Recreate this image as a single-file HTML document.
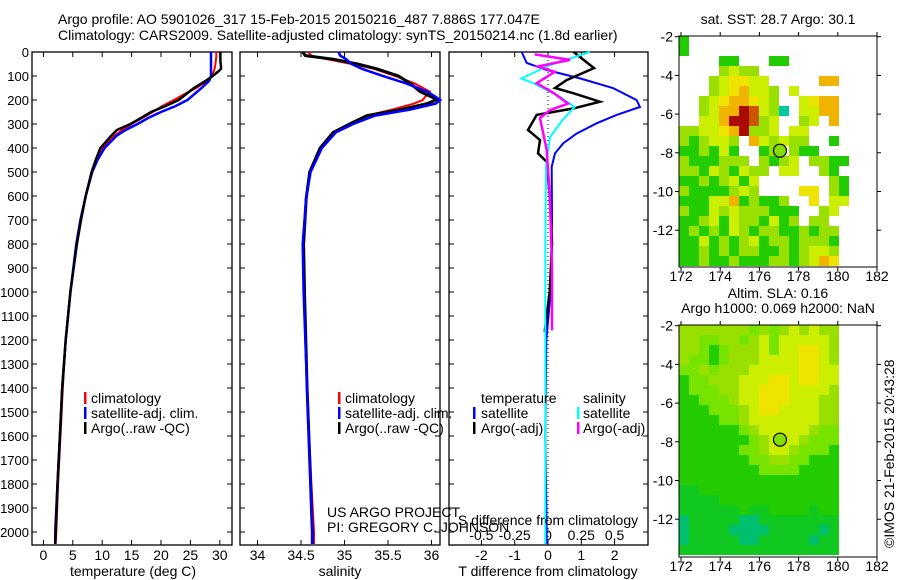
<!DOCTYPE html>
<html><head><meta charset="utf-8"><style>
body{margin:0;background:#fff}
svg{display:block;font-family:"Liberation Sans",sans-serif;font-size:14px}
</style></head><body>
<svg id="fig" width="900" height="580" viewBox="0 0 900 580">
<text x="58" y="24">Argo profile: AO 5901026_317 15-Feb-2015 20150216_487 7.886S 177.047E</text>
<text x="58" y="40">Climatology: CARS2009. Satellite-adjusted climatology: synTS_20150214.nc (1.8d earlier)</text>
<g id="maps"></g>
<g id="plots"></g>
<text x="327" y="517">US ARGO PROJECT</text>
<text x="327" y="532">PI: GREGORY C. JOHNSON</text>
<text transform="translate(894,548) rotate(-90)">©IMOS 21-Feb-2015 20:43:28</text>
</svg>
<script>
// ---------- data ----------
const depthTicks=[0,100,200,300,400,500,600,700,800,900,1000,1100,1200,1300,1400,1500,1600,1700,1800,1900,2000];
const tempTicks=[0,5,10,15,20,25,30];
const salTicks=[34,34.5,35,35.5,36];
const dTTicks=[-2,-1,0,1,2];
const dSTicks=[-0.5,-0.25,0,0.25,0.5];
const lonTicks=[172,174,176,178,180,182];
const latTicks=[-2,-4,-6,-8,-10,-12];

const tDepth=[0,20,40,60,70,80,100,120,150,175,200,225,250,275,300,325,350,400,450,500,600,700,800,1000,1200,1400,1600,1800,2000,2050];
const tArgo=[30.1,30.1,30.1,30.2,30.2,29.8,28.8,27.6,25.6,24.3,23.0,20.8,18.3,16.6,14.8,12.5,11.5,9.7,8.9,8.2,7.2,6.4,5.7,4.6,3.8,3.2,2.8,2.4,2.1,2.0];
const tClim=[29.4,29.4,29.3,29.2,29.1,29.0,28.6,27.9,26.0,24.0,22.2,20.2,18.6,16.8,15.0,13.4,12.0,10.1,9.0,8.2,7.2,6.3,5.6,4.6,3.8,3.3,2.9,2.5,2.2,2.1];
const tSat=[28.5,28.5,28.5,28.5,28.5,28.5,28.5,28.2,26.9,25.7,24.5,22.5,20.0,17.8,16.0,14.0,12.4,10.4,9.2,8.3,7.2,6.3,5.6,4.6,3.8,3.2,2.8,2.4,2.0,2.0];

const sDepth=[0,15,30,50,70,100,130,165,190,200,215,240,265,300,335,400,500,610,800,1000,1400,1800,2000,2050];
const sArgo=[34.52,34.55,34.87,35.15,35.37,35.62,35.75,35.87,36.02,36.05,35.95,35.65,35.26,35.06,34.87,34.72,34.60,34.56,34.53,34.54,34.57,34.61,34.63,34.63];
const sClim=[34.58,34.62,34.80,35.08,35.34,35.58,35.80,35.98,35.92,35.90,35.80,35.55,35.25,35.05,34.88,34.72,34.60,34.56,34.53,34.54,34.57,34.62,34.65,34.65];
const sSat=[34.93,34.95,35.02,35.08,35.20,35.44,35.70,35.95,36.06,36.10,36.05,35.75,35.35,35.10,34.90,34.74,34.61,34.56,34.52,34.53,34.57,34.61,34.63,34.63];

const dTSatDepth=[0,46,75,110,150,200,229,262,297,340,380,422,478,700,1000,1200,1600,2000,2050];
const dTSat=[-0.79,-0.64,-0.04,0.96,1.95,2.66,2.76,2.06,1.46,0.86,0.46,0.21,0.11,0.12,0.08,-0.05,-0.08,-0.04,-0.04];
const dTArgoDepth=[0,67,117,150,172,207,235,262,325,367,422,458,600,800,1000,1166];
const dTArgo=[0.77,1.38,0.56,0.21,0.77,1.56,0.77,-0.34,-0.6,-0.24,-0.3,-0.04,0.05,0.12,0.05,-0.1];
const dSSatDepth=[0,54,110,130,187,229,283,354,478,800,1200,2050];
const dSSat=[0.315,0.015,-0.2,-0.11,0.09,0.2,0.11,0.015,-0.015,-0.02,-0.02,-0.02];
const dSArgoDepth=[10,33,60,83,130,170,215,242,275,340,408,617,900,1160];
const dSArgo=[-0.1,0.165,-0.075,0.05,-0.085,0.04,0.15,0.015,-0.06,-0.035,-0.01,0.015,0.03,0.03];

const sstGrid=[
"g...................","g...................","....gg...gg.........","....lyll............",
"...lyYYyy.....oo....","...lyYoyyl.y........","..lyYooYyl..yYoo....","..lyooRrylc.yyoo....",
"..yyoRRrly..ly.o....","llyyYoRlly.yy.......","lglyyl.oylyll..g....","gglgyg..gl.lgg......",
"lggglll.lgly.llgg...","llgylgyll.yy..lg....","gglglygy.......lg...","lgggglyl....YY.lg...",
"gggyyoglggl..Y.yy...","lggylylllggg..ly....","gglygyllgygl.ll.....","glglgylgllgglgll....",
"ggyglglygllglllg....","gglglgllgglglyyl....","gglgglgggllglyoY...."];
const slaGrid=[
"lllllllmlmlylyll","llmmllmlymyyyyyl","llmgmlllymyyYYyl","lmmgmlllyyyyYYyl",
"mmlmlllyyyyyYYyy","gmmlllyyyYYyYYyy","gmmmllyyYYYyyyyl","ggmmmlyyYYYyyyll",
"gggmmmlyYYyyyyll","ggggmmlyyyyyyyll","ggggggmlyyyyylmm","gggggggmlyyylmmm",
"ggggggmmlyylmmmg","gggggggmmllmmggg","ggggggggmmmmgggg","gggggggggggggggg",
"GGgggggggggggggg","GGGGgggggggggggg","GGGGGGgGGggggGgg","tGGGGGttGGGGGGGG",
"tGGGGttttGGGGGtG","tGGGGGttGGGGGtGG","GGGGGGGGGGGGGGGG"];
const argoLon=177.05, argoLat=-7.89;

// ---------- helpers ----------
const NS="http://www.w3.org/2000/svg";
function mk(tag,attrs,parent){const e=document.createElementNS(NS,tag);for(const k in attrs)e.setAttribute(k,attrs[k]);parent.appendChild(e);return e;}
const plots=document.getElementById('plots');
const maps=document.getElementById('maps');
const yD=d=>52+0.24*d;
const pTop=52,pBot=545;
const xT=v=>43.4+5.88*v;
const xS=v=>257.5+87*(v-34);
const xDT=v=>548+33.3*v;
const xDS=v=>548+133.2*v;

function frame(x0,x1,name){
  const r=mk('rect',{x:x0,y:pTop,width:x1-x0,height:pBot-pTop,fill:'none',stroke:'#000','stroke-width':1.3},plots);
  
  
  depthTicks.forEach(d=>{
    const y=yD(d);
    mk('line',{x1:x0,x2:x0+5,y1:y,y2:y,stroke:'#000'},plots);
    mk('line',{x1:x1-5,x2:x1,y1:y,y2:y,stroke:'#000'},plots);
  });
}
function xTicks(ticks,fx,labels,ly){
  ticks.forEach(v=>{
    const x=fx(v);
    mk('line',{x1:x,x2:x,y1:pBot,y2:pBot-5,stroke:'#000'},plots);
    mk('line',{x1:x,x2:x,y1:pTop,y2:pTop+5,stroke:'#000'},plots);
    if(labels){const t=mk('text',{x:x,y:ly,'text-anchor':'middle'},plots);t.textContent=String(v);
      
      }
  });
}
function line(ds,vs,fx,color,w,name){
  const pts=ds.map((d,i)=>fx(vs[i]).toFixed(1)+','+yD(d).toFixed(1)).join(' ');
  const p=mk('polyline',{points:pts,fill:'none',stroke:color,'stroke-width':w,'stroke-linejoin':'miter'},plots);
  
  
}
function label(x,y,txt,name,anchor,fs){
  const t=mk('text',{x:x,y:y,'text-anchor':anchor||'start'},plots);t.textContent=txt;
  if(fs)t.setAttribute('font-size',fs);
  
  
}
function legBar(x,y,color){mk('rect',{x:x,y:y-11,width:2.5,height:12,fill:color},plots);}

// panel 1
frame(32,232,'temperature-panel');
depthTicks.forEach(d=>label(29,yD(d)+5,String(d),'y-tick-label','end',13));
xTicks(tempTicks,xT,true,560);
line(tDepth,tClim,xT,'#f00',2,'temp-climatology-line');
line(tDepth,tSat,xT,'#00f',2.5,'temp-satellite-line');
line(tDepth,tArgo,xT,'#000',2.5,'temp-argo-line');
label(133,576,'temperature (deg C)','temp-x-axis-title','middle');
legBar(84,403,'#f00');label(91,403,'climatology','legend-climatology');
legBar(84,418,'#00f');label(91,418,'satellite-adj. clim.','legend-satellite');
legBar(84,433,'#000');label(91,433,'Argo(..raw -QC)','legend-argo');

// panel 2
frame(240,440,'salinity-panel');
xTicks(salTicks,xS,true,560);
line(sDepth,sClim,xS,'#f00',2,'sal-climatology-line');
line(sDepth,sArgo,xS,'#000',3,'sal-argo-line');
line(sDepth,sSat,xS,'#00f',2.5,'sal-satellite-line');
label(340,576,'salinity','sal-x-axis-title','middle');
legBar(338,403,'#f00');label(345,403,'climatology','legend-climatology-2');
legBar(338,418,'#00f');label(345,418,'satellite-adj. clim.','legend-satellite-2');
legBar(338,433,'#000');label(345,433,'Argo(..raw -QC)','legend-argo-2');

// panel 3
frame(449,648,'difference-panel');
xTicks(dTTicks,xDT,true,560);
dSTicks.forEach(v=>label(xDS(v),540,String(v),'s-diff-tick-label','middle'));
mk('line',{x1:548,x2:548,y1:pTop,y2:pBot,stroke:'#000','stroke-dasharray':'1,3'},plots);
line(dTSatDepth,dTSat,xDT,'#00f',2,'t-diff-satellite-line');
line(dTArgoDepth,dTArgo,xDT,'#000',2.5,'t-diff-argo-line');
line(dSSatDepth,dSSat,xDS,'#0ff',2,'s-diff-satellite-line');
line(dSArgoDepth,dSArgo,xDS,'#f0f',2.5,'s-diff-argo-line');
label(548,576,'T difference from climatology','t-diff-axis-title','middle');
label(548,525,'S difference from climatology','s-diff-axis-title','middle');
label(481,403,'temperature','legend-temperature-header');
label(583,403,'salinity','legend-salinity-header');
legBar(473,418,'#00f');label(481,418,'satellite','legend-t-satellite');
legBar(473,433,'#000');label(481,433,'Argo(-adj)','legend-t-argo');
legBar(577,418,'#0ff');label(583,418,'satellite','legend-s-satellite');
legBar(577,433,'#f0f');label(583,433,'Argo(-adj)','legend-s-argo');

// ---------- maps ----------
const cols={g:'#22cc00',l:'#99e000',y:'#ccee00',Y:'#eee400',o:'#f0b400',r:'#cc5500',R:'#aa0a00',c:'#00c8a0',
 G:'#10c820',m:'#77e400',t:'#00c070'};
function drawMap(x0,y0,x1,y1,grid,name,title1,title2){
  const g=mk('g',{},maps);
  
  
  grid.forEach((row,j)=>{[...row].forEach((ch,i)=>{
    if(ch==='.')return;
    const x=x0+10*i,y=y0+10*j;
    mk('rect',{x:x,y:y,width:Math.min(10,x1-x),height:Math.min(10,y1-y),fill:cols[ch]},g);
  });});
  const lx=v=>681+19.6*(v-172), ly=v=>y0+0.7+19.35*(-2-v);
  mk('rect',{x:x0,y:y0,width:x1-x0,height:y1-y0,fill:'none',stroke:'#000'},g);
  lonTicks.forEach(v=>{const x=lx(v);
    mk('line',{x1:x,x2:x,y1:y1,y2:y1+4,stroke:'#000'},g);mk('line',{x1:x,x2:x,y1:y0,y2:y0-4,stroke:'#000'},g);
    const t=mk('text',{x:x,y:y1+14,'text-anchor':'middle'},g);t.textContent=String(v);
    
    });
  latTicks.forEach(v=>{const y=ly(v);
    mk('line',{x1:x0,x2:x0-4,y1:y,y2:y,stroke:'#000'},g);mk('line',{x1:x1,x2:x1+4,y1:y,y2:y,stroke:'#000'},g);
    const t=mk('text',{x:x0-6,y:y+5,'text-anchor':'end'},g);t.textContent=String(v);
    
    });
  const c=mk('circle',{cx:lx(argoLon),cy:ly(argoLat),r:6.5,fill:'#88dd00',stroke:'#000','stroke-width':1.2},g);
  
  
  const t1=mk('text',{x:778,y:title2?y0-27:y0-12,'text-anchor':'middle'},g);t1.textContent=title1;
  
  
  if(title2){const t2=mk('text',{x:778,y:y0-12,'text-anchor':'middle'},g);t2.textContent=title2;
    
    }
}
drawMap(679,36,877,267,sstGrid,'sst-map','sat. SST: 28.7 Argo: 30.1');
drawMap(679,325,877,557,slaGrid,'sla-map','Altim. SLA: 0.16','Argo h1000: 0.069 h2000: NaN');
</script>
</body></html>
